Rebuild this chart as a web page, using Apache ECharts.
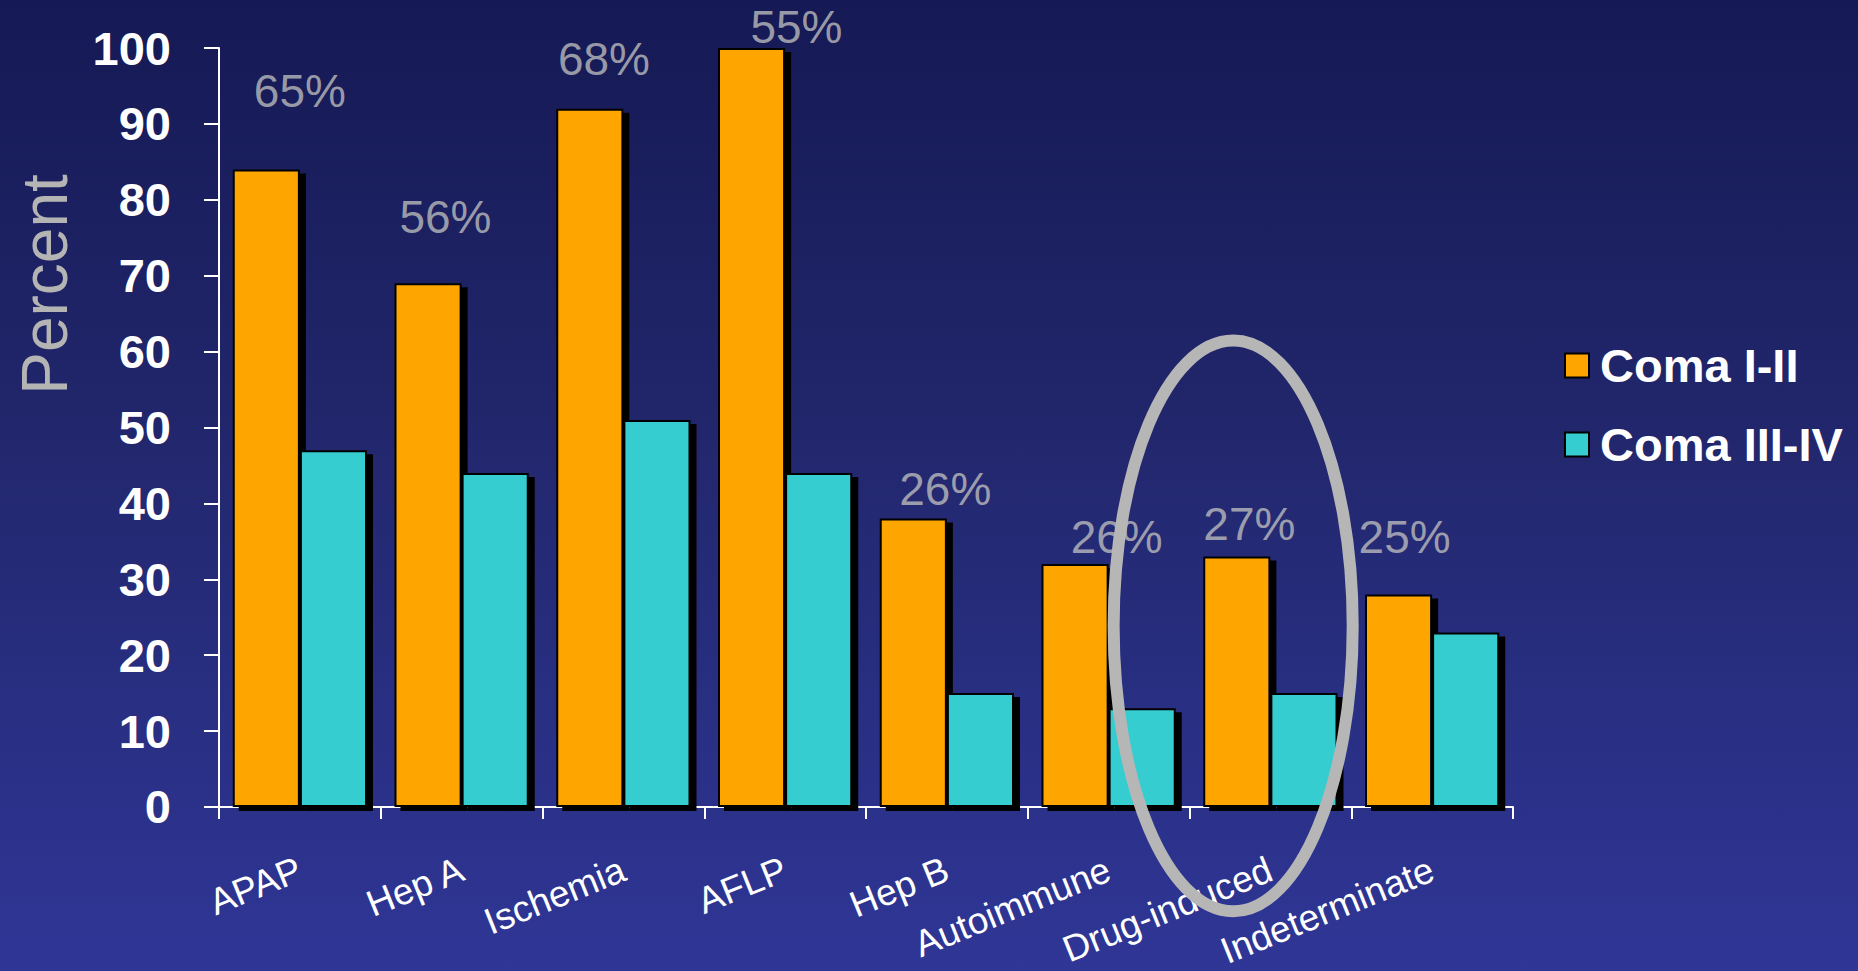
<!DOCTYPE html>
<html>
<head>
<meta charset="utf-8">
<script src="https://cdn.jsdelivr.net/npm/echarts@6/dist/echarts.min.js"></script>
<style>
  html, body { margin: 0; padding: 0; background: #1f2466; }
  #chart { width: 1858px; height: 971px; }
</style>
</head>
<body>
<div id="chart"></div>
<script>
// Aetiology groups along the x axis
const categories = ['APAP', 'Hep A', 'Ischemia', 'AFLP', 'Hep B', 'Autoimmune', 'Drug-induced', 'Indeterminate'];
const seriesNames = ['Coma I-II', 'Coma III-IV'];
// Percent of patients in each coma grade
const comaLow = [84, 69, 92, 100, 38, 32, 33, 28];
const comaHigh = [47, 44, 51, 44, 15, 13, 15, 23];
// Percentage notes written above each group, with where they sit (x in category units, y in percent)
const noteTexts = ['65%', '56%', '68%', '55%', '26%', '26%', '27%', '25%'];
const notePlaces = [[0.50, 94.3], [1.40, 77.7], [2.38, 98.6], [3.57, 102.8], [4.49, 41.9], [5.55, 35.6], [6.37, 37.3], [7.33, 35.6]];
// Ring around the drug-induced group (centre and radii in axis units)
const ringCenter = [6.27, 23.85];
const ringRadii = [0.739, 37.6];

const FONT = '"Liberation Sans", Arial, Helvetica, sans-serif';
// SVG output keeps the drop shadow behind the whole bar, outline included
const chart = echarts.init(document.getElementById('chart'), null, { renderer: 'svg' });

const barStyle = (color) => ({
  color: color,
  borderColor: '#000',
  borderWidth: 2,
  shadowColor: '#000',
  shadowBlur: 0,
  shadowOffsetX: 6,
  shadowOffsetY: 4
});

chart.setOption({
  backgroundColor: {
    type: 'linear', x: 0, y: 0, x2: 0, y2: 1,
    colorStops: [
      { offset: 0, color: '#151954' },
      { offset: 0.45, color: '#22276d' },
      { offset: 1, color: '#2f3696' }
    ]
  },
  animation: false,
  textStyle: { fontFamily: FONT },
  grid: { left: 219, right: 345, top: 48, bottom: 162 },
  legend: {
    orient: 'vertical',
    left: 1559,
    top: 337,
    itemWidth: 24,
    itemHeight: 24,
    itemGap: 32,
    icon: 'rect',
    data: seriesNames,
    itemStyle: { shadowColor: 'rgba(0,0,0,0)', shadowOffsetX: 0, shadowOffsetY: 0 },
    textStyle: { color: '#ffffff', fontSize: 47, fontWeight: 'bold', lineHeight: 47, padding: [0, 0, 0, 6], fontFamily: FONT }
  },
  xAxis: [{
    type: 'category',
    data: categories,
    axisLine: { show: true, lineStyle: { color: '#ffffff', width: 2 } },
    axisTick: { show: true, length: 12, lineStyle: { color: '#ffffff', width: 2 } },
    axisLabel: { interval: 0, rotate: 22, margin: 61, color: '#ffffff', fontSize: 37, fontFamily: FONT },
    splitLine: { show: false }
  }, {
    type: 'value', min: 0, max: 8, show: false
  }],
  yAxis: {
    type: 'value',
    min: 0,
    max: 100,
    interval: 10,
    name: 'Percent',
    nameLocation: 'middle',
    nameRotate: 90,
    nameGap: 142,
    nameTextStyle: { color: '#b4b4b4', fontSize: 64, fontFamily: FONT, padding: [0, 0, 0, 286] },
    axisLine: { show: true, lineStyle: { color: '#ffffff', width: 2 } },
    axisTick: { show: true, length: 15, lineStyle: { color: '#ffffff', width: 2 } },
    axisLabel: { color: '#ffffff', fontSize: 47, fontWeight: 'bold', margin: 48, fontFamily: FONT },
    splitLine: { show: false }
  },
  series: [{
    name: seriesNames[0],
    type: 'bar',
    data: comaLow,
    barGap: '0%',
    barCategoryGap: '17%',
    itemStyle: barStyle('#ffa500')
  }, {
    name: seriesNames[1],
    type: 'bar',
    data: comaHigh,
    barGap: '0%',
    barCategoryGap: '17%',
    itemStyle: barStyle('#36cdd0')
  }, {
    name: 'notes',
    type: 'scatter',
    xAxisIndex: 1,
    yAxisIndex: 0,
    clip: false,
    silent: true,
    symbol: 'circle',
    symbolSize: 1,
    itemStyle: { color: 'rgba(0,0,0,0)' },
    z: 5,
    label: { show: true, position: 'inside', color: '#bdbdbd', fontSize: 46, fontFamily: FONT },
    data: notePlaces.map((p, i) => ({ value: p, label: { formatter: noteTexts[i] } }))
  }]
});

// Ring highlighting the drug-induced group, placed through the chart's scales
const c = chart.convertToPixel({ seriesIndex: 2 }, ringCenter);
const edge = chart.convertToPixel({ seriesIndex: 2 }, [ringCenter[0] + ringRadii[0], ringCenter[1] + ringRadii[1]]);
chart.setOption({
  graphic: [{
    type: 'ellipse',
    z: 100,
    silent: true,
    shape: { cx: c[0], cy: c[1], rx: edge[0] - c[0], ry: c[1] - edge[1] },
    style: { fill: 'none', stroke: '#b6b6b6', lineWidth: 12 }
  }]
});
</script>
</body>
</html>
